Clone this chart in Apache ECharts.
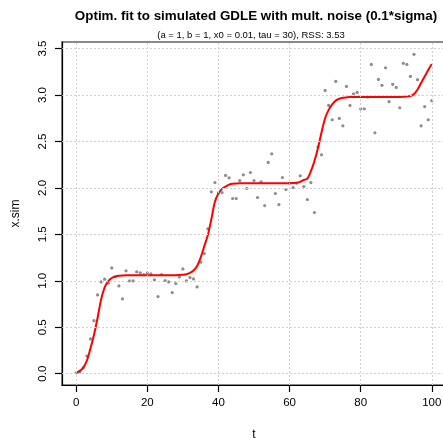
<!DOCTYPE html>
<html>
<head>
<meta charset="utf-8">
<script src="https://cdn.jsdelivr.net/npm/echarts@6/dist/echarts.min.js"></script>
<style>
  html, body { margin: 0; padding: 0; background: #ffffff; }
  #chart { width: 443px; height: 438px; }
</style>
</head>
<body>
<div id="chart"></div>
<script>
// Simulated observations (one per time step)
const obsT = [0,1,2,3,4,5,6,7,8,9,10,11,12,13,14,15,16,17,18,19,20,
  21,22,23,24,25,26,27,28,29,30,31,32,33,34,35,36,37,38,39,40,
  41,42,43,44,45,46,47,48,49,50,51,52,53,54,55,56,57,58,59,60,
  61,62,63,64,65,66,67,68,69,70,71,72,73,74,75,76,77,78,79,80,
  81,82,83,84,85,86,87,88,89,90,91,92,93,94,95,96,97,98,99,100];
const obsX = [0.01,0.018,0.065,0.19,0.374,0.571,0.848,0.988,1.017,0.974,1.139,
  1.045,0.945,0.805,1.107,0.999,0.999,1.096,1.085,1.067,1.085,
  1.074,1.01,0.83,1.067,1.003,0.988,0.873,0.97,1.042,1.128,
  0.999,1.035,1.02,0.934,1.2,1.293,1.559,1.958,2.058,1.947,
  1.95,2.134,2.109,1.886,1.886,2.08,2.141,1.994,2.166,2.08,
  1.897,2.066,1.81,2.274,2.367,1.94,1.821,2.112,1.983,2.05,
  2.004,2.05,2.13,2.015,1.875,2.058,1.735,2.443,2.357,3.05,
  2.888,2.734,3.147,2.748,2.669,3.093,2.888,3.014,3.028,2.852,
  2.852,2.978,3.33,2.594,3.168,3.104,3.294,2.928,3.115,3.082,
  2.863,3.341,3.33,3.2,3.438,3.165,2.669,2.876,2.734,2.939];

// Fitted GDLE trajectory
const fitT = [0,1,2,3,4,5,6,7,8,9,10,11,12,14,16,20,24,28,30,31,32,33,34,35,36,37,38,39,40,
  41,42,43,44,46,50,55,60,62,63,64,65,66,67,68,69,70,71,72,73,74,75,77,80,85,90,92,93,94,95,
  96,97,98,99,100];
const fitX = [0.01,0.03,0.065,0.14,0.27,0.42,0.60,0.80,0.93,0.995,1.03,1.045,1.055,1.06,1.06,1.06,1.06,1.06,1.065,1.07,1.085,1.11,1.16,1.25,1.37,1.49,1.66,1.85,1.94,
  1.99,2.015,2.035,2.045,2.05,2.05,2.05,2.05,2.055,2.065,2.085,2.10,2.18,2.29,2.43,2.60,2.75,2.84,2.90,2.94,2.96,2.97,2.98,2.98,2.98,2.98,2.982,2.985,2.99,3.01,
  3.06,3.13,3.20,3.27,3.335];

const xTicks = [0, 20, 40, 60, 80, 100];
const yTicks = [0, 0.5, 1, 1.5, 2, 2.5, 3, 3.5];

const FONT = 'Liberation Sans, Arial, Helvetica, sans-serif';

const chart = echarts.init(document.getElementById('chart'), null, { renderer: 'canvas' });

const obsData = obsT.map((t, i) => [t, obsX[i]]);
const fitData = fitT.map((t, i) => [t, fitX[i]]);

const gridLines = xTicks.map(v => ({ xAxis: v })).concat(yTicks.map(v => ({ yAxis: v })));

chart.setOption({
  animation: false,
  backgroundColor: '#ffffff',
  title: [
    {
      text: 'Optim. fit to simulated GDLE with mult. noise (0.1*sigma)',
      left: 256, top: 10, textAlign: 'center', padding: 0,
      textStyle: { fontFamily: FONT, fontSize: 13.4, fontWeight: 'bold', color: '#000' }
    },
    {
      text: '(a = 1, b = 1, x0 = 0.01, tau = 30), RSS: 3.53',
      left: 251, top: 30, textAlign: 'center', padding: 0,
      textStyle: { fontFamily: FONT, fontSize: 9.5, fontWeight: 'normal', color: '#000' }
    }
  ],
  grid: {
    left: 62, top: 42, width: 384, height: 343,
    containLabel: false, outerBoundsMode: 'none',
    show: true, borderColor: '#8a8a8a', borderWidth: 2, backgroundColor: 'transparent'
  },
  xAxis: {
    type: 'value', min: -4, max: 104,
    name: 't', nameLocation: 'middle', nameGap: 44,
    nameTextStyle: { fontFamily: FONT, fontSize: 12, color: '#000' },
    axisLine: { show: true, onZero: false, lineStyle: { color: '#000', width: 1.2 } },
    axisTick: { show: true, length: 7, customValues: xTicks, lineStyle: { color: '#000', width: 1.2 } },
    axisLabel: { customValues: xTicks, margin: 12, fontFamily: FONT, fontSize: 11.5, color: '#000' },
    splitLine: { show: false }
  },
  yAxis: {
    type: 'value', min: -0.122, max: 3.571,
    name: 'x.sim', nameLocation: 'middle', nameGap: 40, nameRotate: 90,
    nameTextStyle: { fontFamily: FONT, fontSize: 12, color: '#000' },
    axisLine: { show: true, onZero: false, lineStyle: { color: '#000', width: 1.2 } },
    axisTick: { show: true, length: 7, customValues: yTicks, lineStyle: { color: '#000', width: 1.2 } },
    axisLabel: {
      customValues: yTicks, rotate: 90, margin: 13,
      fontFamily: FONT, fontSize: 11.5, color: '#000',
      formatter: v => Number(v).toFixed(1)
    },
    splitLine: { show: false }
  },
  series: [
    {
      name: 'observed', type: 'scatter', data: obsData,
      symbol: 'circle', symbolSize: 3.2,
      itemStyle: { color: '#6f6f6f' },
      z: 3,
      markLine: {
        silent: true, symbol: 'none', animation: false,
        label: { show: false },
        lineStyle: { color: '#d0d0d0', type: [2, 2], width: 1 },
        emphasis: { disabled: true },
        data: gridLines
      }
    },
    {
      name: 'fit', type: 'line', data: fitData,
      smooth: 0.3, showSymbol: false, symbol: 'none',
      lineStyle: { color: '#ff0000', width: 2 },
      z: 4
    }
  ]
});
</script>
</body>
</html>
